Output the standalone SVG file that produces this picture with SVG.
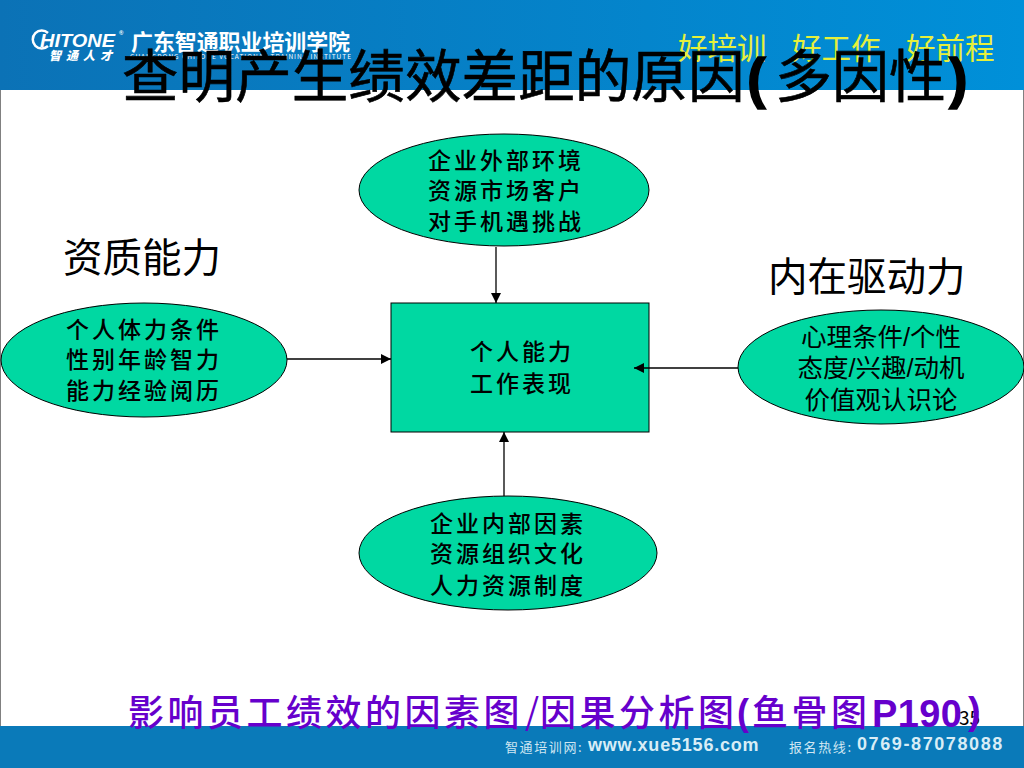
<svg xmlns="http://www.w3.org/2000/svg" width="1024" height="768" viewBox="0 0 1024 768">
<style>
text{font-family:"Noto Sans CJK SC","Liberation Sans",sans-serif}
.n{fill:#00d8a2;stroke:#000;stroke-width:1}
.t{font-size:23px;font-weight:500;letter-spacing:3px;text-anchor:middle;fill:#000}
.s{font-size:25.5px;text-anchor:middle;fill:#000}
.h{font-size:39.5px;fill:#000}
.c{stroke:#000;stroke-width:1.3;fill:none;marker-end:url(#a)}
.y{font-size:29.5px;fill:#e6f03c}
.l{font-family:"Liberation Sans",sans-serif;font-weight:bold}
.cap{font-size:36px;font-weight:500;fill:#6600cc;letter-spacing:3.5px}
.ti{font-weight:400;fill:#000;stroke:#000;stroke-width:.6}
</style>
<defs>
<marker id="a" markerUnits="userSpaceOnUse" markerWidth="11" markerHeight="10" refX="10" refY="5" orient="auto"><path d="M0 0L10 5L0 10Z" fill="#000"/></marker>
<linearGradient id="g" x1="0" x2="1" y1="0" y2="0"><stop offset="0" stop-color="#0b72b6"/><stop offset="1" stop-color="#0090d9"/></linearGradient>
</defs>
<rect width="1024" height="768" fill="#fff"/>
<path d="M0.5 90V726M1023.5 90V726" stroke="#808080" stroke-width="1" fill="none"/>
<g id="header">
<rect width="1024" height="90" fill="url(#g)"/>
<path d="M48 33A9 9 0 1 0 48 46" fill="none" stroke="#fff" stroke-width="2.5"/>
<text class="l" x="40" y="47" font-size="19" font-style="italic" fill="#fff" textLength="75" lengthAdjust="spacingAndGlyphs">HITONE</text>
<text class="l" x="119" y="35" font-size="6" fill="#fff">®</text>
<text x="49" y="60" font-size="12" font-weight="900" font-style="italic" fill="#fff" letter-spacing="5">智通人才</text>
<text x="131" y="50" font-size="22" font-weight="700" fill="#fff" letter-spacing="-0.1">广东智通职业培训学院</text>
<text x="130" y="59" font-size="6.5" font-family="Liberation Serif" fill="#fff" textLength="221">GUANGDONG CHITONE VOCATIONAL TRAINING INSTITUTE</text>
<text class="y" x="678" y="59">好培训</text>
<text class="y" x="792" y="59">好工作</text>
<text class="y" x="906" y="59">好前程</text>
</g>
<g id="footer">
<rect y="726" width="1024" height="42" fill="#0a7ab9"/>
<text x="505" y="752" font-size="13" fill="#cfe6f2" letter-spacing="1.6">智通培训网:</text>
<text class="l" x="588" y="751" font-size="18" fill="#d8edf6" letter-spacing="0.8">www.xue5156.com</text>
<text x="789" y="752" font-size="13" fill="#cfe6f2" letter-spacing="1.6">报名热线:</text>
<text class="l" x="857" y="750" font-size="18" fill="#d8edf6" letter-spacing="1.6">0769-87078088</text>
</g>
<text id="page" x="959" y="725" font-size="19" font-family="Liberation Sans" fill="#000">35</text>
<g id="title"><text class="ti" x="122" y="97" font-size="56.6">查明产生绩效差距的原因</text><text class="l" x="747" y="97" font-size="56" stroke="#000" stroke-width="1.5">(</text><text class="ti" x="775" y="97" font-size="57">多因性</text><text class="l" x="949" y="97" font-size="56" stroke="#000" stroke-width="1.5">)</text></g>
<g id="label-ability"><text class="h" x="63" y="272">资质能力</text></g>
<g id="label-drive"><text class="h" x="768" y="291">内在驱动力</text></g>
<g id="node-external"><ellipse class="n" cx="504" cy="190" rx="145" ry="56"/>
<text class="t" x="506" y="169">企业外部环境</text><text class="t" x="506" y="199">资源市场客户</text><text class="t" x="506" y="230">对手机遇挑战</text></g>
<g id="node-center"><rect class="n" x="391" y="303" width="258" height="129"/>
<text class="t" x="522" y="360">个人能力</text><text class="t" x="522" y="392">工作表现</text></g>
<g id="node-quality"><ellipse class="n" cx="144" cy="360" rx="143" ry="57"/>
<text class="t" x="144" y="338">个人体力条件</text><text class="t" x="144" y="368">性别年龄智力</text><text class="t" x="144" y="399">能力经验阅历</text></g>
<g id="node-drive"><ellipse class="n" cx="881" cy="367" rx="143" ry="57"/>
<text class="s" x="881" y="346">心理条件<tspan font-family="Liberation Sans">/</tspan>个性</text><text class="s" x="881" y="377">态度<tspan font-family="Liberation Sans">/</tspan>兴趣<tspan font-family="Liberation Sans">/</tspan>动机</text><text class="s" x="881" y="409">价值观认识论</text></g>
<g id="node-internal"><ellipse class="n" cx="508" cy="553" rx="149" ry="57"/>
<text class="t" x="508" y="532">企业内部因素</text><text class="t" x="508" y="562">资源组织文化</text><text class="t" x="508" y="594">人力资源制度</text></g>
<g id="connectors">
<path class="c" d="M496 247V303"/>
<path class="c" d="M287 359H391"/>
<path class="c" d="M738 368H634"/>
<path class="c" d="M504 496V432"/>
</g>
<g id="caption"><text class="cap" x="128" y="726">影响员工绩效的因素图</text><text x="525" y="725" font-size="36" font-family="Liberation Sans" fill="#6600cc">/</text><text class="cap" x="540" y="726">因果分析图</text><text class="l" x="737" y="725" font-size="36" fill="#6600cc">(</text><text class="cap" x="752" y="726">鱼骨图</text><text class="l" x="872" y="727" font-size="38" fill="#6600cc" textLength="90">P190</text><text class="l" x="968" y="724" font-size="38" fill="#6600cc">)</text></g>
</svg>
